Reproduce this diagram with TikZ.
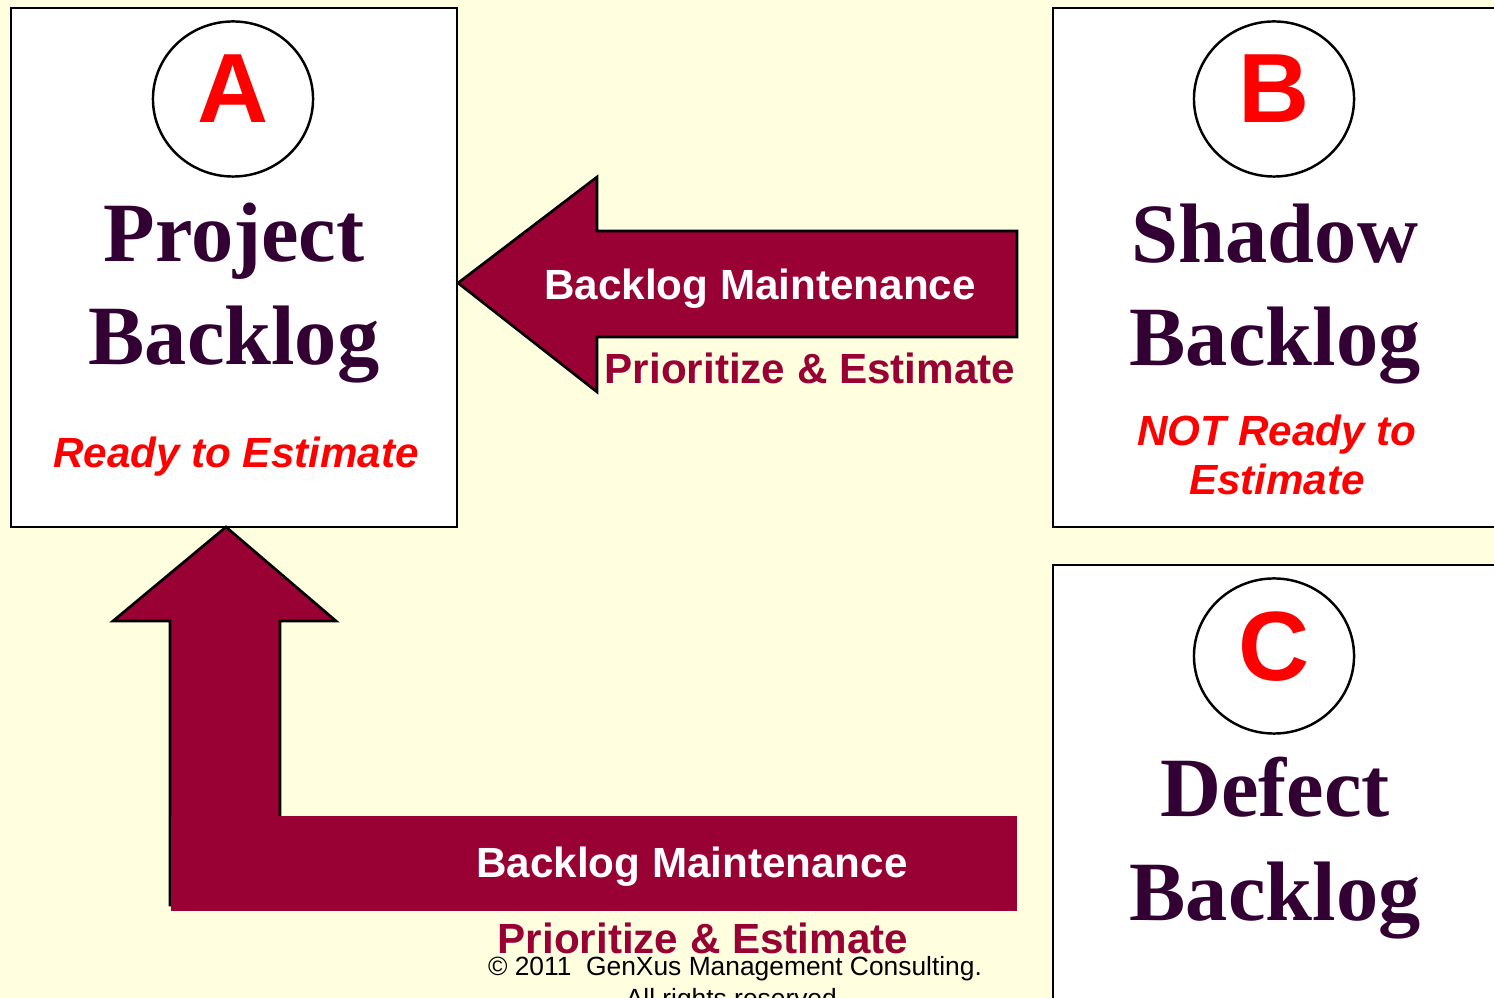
\documentclass[tikz,border=0pt]{standalone}
\usepackage{fontspec}
\setmainfont{Liberation Sans}
\newfontfamily\titlefont{Liberation Serif}
\usetikzlibrary{shapes.geometric}
\definecolor{paper}{HTML}{FFFFE0}
\definecolor{wine}{HTML}{990033}
\definecolor{plum}{HTML}{330033}
\tikzstyle{backlog box}=[draw, line width=0.75pt, fill=white]
\tikzstyle{letter}=[ellipse, draw=black, line width=0.7pt, minimum width=1.6cm, minimum height=1.55cm, inner sep=0pt, text depth=0.2cm, text=red, font=\bfseries\fontsize{28}{28}\selectfont]
\tikzstyle{title}=[text=plum, font=\titlefont\bfseries\fontsize{24}{29.3}\selectfont, align=center, anchor=base]
\tikzstyle{note}=[text=red, font=\bfseries\itshape\fontsize{12}{14.2}\selectfont, align=center, anchor=base]
\tikzstyle{flow}=[fill=wine, draw=black, line width=0.75pt]
\tikzstyle{flow text}=[text=white, font=\bfseries\fontsize{12}{14}\selectfont, anchor=base]
\tikzstyle{flow note}=[text=wine, font=\bfseries\fontsize{12}{14}\selectfont, anchor=base]

\begin{document}
\begin{tikzpicture}[x=0.01cm, y=-0.01cm]
% Background
    \fill[paper] (0,0) rectangle (1494,998);
    \clip (0,0) rectangle (1494,998);
% Backlogs
    \draw[backlog box] (11,8) rectangle (457,527);
    \draw[backlog box] (1053,8) rectangle (1510,527);
    \draw[backlog box] (1053,565) rectangle (1510,1010);
% Letters
    \node[letter] (circA) at (233,99) {A};
    \node[letter] (circB) at (1274,99) {B};
    \node[letter] (circC) at (1274,656) {C};
% Titles (base is the last line)
    \node[title] (projTitle) at (234,365) {Project\\Backlog};
    \node[title] (shadowTitle) at (1275,366) {Shadow\\Backlog};
    \node[title] (defectTitle) at (1275,920) {Defect\\Backlog};
    \node[note] (projNote) at (236,468) {Ready to Estimate};
    \node[note] (shadowNote) at (1277,495) {NOT Ready to\\Estimate};
% Arrow from the shadow backlog
    \draw[flow] (458,283) -- (597,177) -- (597,231) -- (1017,231) -- (1017,337) -- (597,337) -- (597,392) -- cycle;
    \node[flow text] (shadowFlow) at (760,300) {Backlog Maintenance};
    \node[flow note] (shadowStep) at (810,384) {Prioritize \& Estimate};
% Arrow from the defect backlog
    \draw[flow] (226,527) -- (336,621) -- (280,621) -- (280,905) -- (170,905) -- (170,621) -- (113,621) -- cycle;
    \fill[wine] (171,816) rectangle (1017,911);
    \node[flow text] (defectFlow) at (692,877) {Backlog Maintenance};
    \node[flow note] (defectStep) at (703,953) {Prioritize \& Estimate};
% Copyright
    \node[font=\fontsize{7.5}{9.1}\selectfont, align=center, anchor=base] (copyright) at (735,1008) {\textcopyright{} 2011\ \ GenXus Management Consulting.\\All rights reserved.};
\end{tikzpicture}
\end{document}
